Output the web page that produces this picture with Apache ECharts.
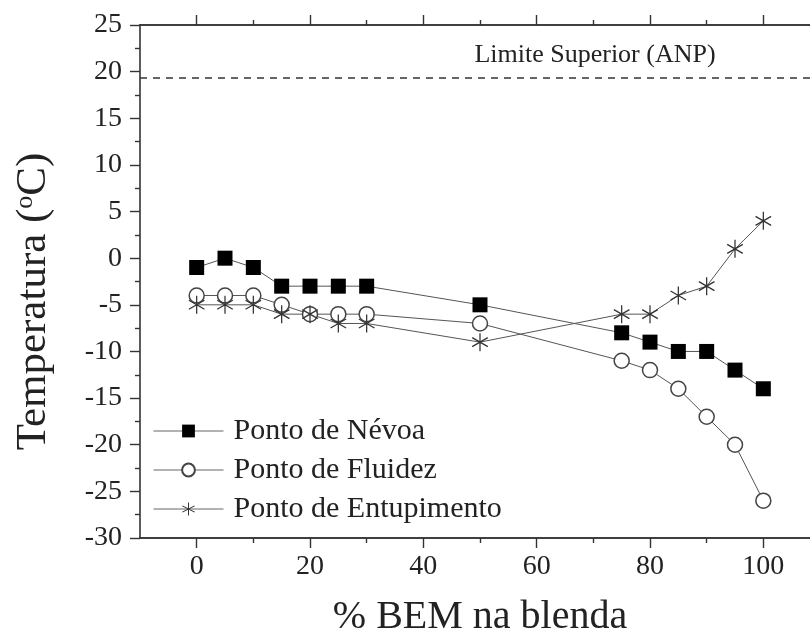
<!DOCTYPE html>
<html>
<head>
<meta charset="utf-8">
<script src="https://cdn.jsdelivr.net/npm/echarts@6/dist/echarts.min.js"></script>
<style>
  html, body { margin: 0; padding: 0; background: #fff; }
  #chart { width: 810px; height: 637px; }
</style>
</head>
<body>
<div id="chart"></div>
<script>
// ---- data ----
const xValues = [0, 5, 10, 15, 20, 25, 30, 50, 75, 80, 85, 90, 95, 100];
const nevoa = [-1, 0, -1, -3, -3, -3, -3, -5, -8, -9, -10, -10, -12, -14];
const fluidez = [-4, -4, -4, -5, -6, -6, -6, -7, -11, -12, -14, -17, -20, -26];
const entupimento = [-5, -5, -5, -6, -6, -7, -7, -9, -6, -6, -4, -3, 1, 4];
const seriesNames = ['Ponto de Névoa', 'Ponto de Fluidez', 'Ponto de Entupimento'];
const xMajorTicks = [0, 20, 40, 60, 80, 100];
const xMinorTicks = [10, 30, 50, 70, 90];
const anpLimit = 19.3;
const anpLabel = 'Limite Superior (ANP)';
const xTitle = '% BEM na blenda';

const FONT = "'Liberation Serif', 'Times New Roman', serif";
const INK = '#222';
const AXIS = '#333';

const asteriskPath = 'path://M-0.07,-1L0.07,-1L0.07,1L-0.07,1Z' +
  'M0.831,-0.561L0.901,-0.439L-0.831,0.561L-0.901,0.439Z' +
  'M-0.901,-0.439L-0.831,-0.561L0.901,0.439L0.831,0.561Z';

function pairs(ys) { return xValues.map((x, i) => [x, ys[i]]); }

const chart = echarts.init(document.getElementById('chart'), null, { renderer: 'canvas' });

const axisLineStyle = { show: true, onZero: false, lineStyle: { color: AXIS, width: 1.6 } };

function xAxisBase(position, ticks, len, showLabel, extra) {
  return Object.assign({
    type: 'value', position: position, min: -10, max: 110,
    axisLine: axisLineStyle,
    axisTick: { show: true, inside: false, length: len, customValues: ticks, lineStyle: { color: AXIS, width: 1.4 } },
    axisLabel: showLabel ? { show: true, customValues: ticks, fontSize: 28, fontFamily: FONT, color: INK, margin: 15 } : { show: false },
    splitLine: { show: false }
  }, extra || {});
}

const option = {
  backgroundColor: '#fff',
  animation: false,
  grid: { left: 140, top: 25, width: 680, bottom: 99, containLabel: false, outerBoundsMode: 'none' },
  xAxis: [
    xAxisBase('bottom', xMajorTicks, 10, true, {
      name: xTitle, nameLocation: 'middle', nameGap: 59,
      nameTextStyle: { fontSize: 40, fontFamily: FONT, color: INK }
    }),
    xAxisBase('bottom', xMinorTicks, 5, false),
    xAxisBase('top', xMajorTicks, 10, false),
    xAxisBase('top', xMinorTicks, 5, false)
  ],
  yAxis: [
    {
      type: 'value', position: 'left', min: -30, max: 25, interval: 5,
      axisLine: axisLineStyle,
      axisTick: { show: true, inside: false, length: 10, lineStyle: { color: AXIS, width: 1.4 } },
      minorTick: { show: true, splitNumber: 2, length: 5, lineStyle: { color: AXIS, width: 1.4 } },
      axisLabel: { fontSize: 28, fontFamily: FONT, color: INK, margin: 18 },
      splitLine: { show: false },
      name: 'Temperatura ({sup|o}C)', nameLocation: 'middle', nameGap: 84,
      nameTextStyle: {
        fontSize: 43, fontFamily: FONT, color: INK, padding: [0, 40, 0, 0],
        rich: { sup: { fontSize: 26, fontFamily: FONT, color: INK, verticalAlign: 'top', padding: [0, 0, 18, 0] } }
      }
    },
    {
      type: 'value', position: 'right', min: -30, max: 25, interval: 5,
      axisLine: axisLineStyle, axisTick: { show: false }, axisLabel: { show: false }, splitLine: { show: false }
    }
  ],
  legend: {
    orient: 'vertical', left: 153, top: 416, padding: 0,
    itemWidth: 70, itemHeight: 16, itemGap: 9,
    lineStyle: { color: '#666', width: 1 },
    textStyle: { fontSize: 30, fontFamily: FONT, color: INK, lineHeight: 30, padding: [0, 0, 0, 5] },
    data: seriesNames
  },
  series: [
    {
      name: seriesNames[0], type: 'line', data: pairs(nevoa),
      symbol: 'rect', symbolSize: 15,
      itemStyle: { color: '#000', borderColor: '#000', borderWidth: 0 },
      lineStyle: { color: '#555', width: 1 },
      markLine: {
        silent: true, symbol: 'none', animation: false,
        lineStyle: { color: AXIS, width: 1.5, type: [7, 6] },
        label: {
          show: true, formatter: anpLabel, position: 'insideMiddleTop',
          fontSize: 26, fontFamily: FONT, color: INK, distance: 10, offset: [115, 0]
        },
        data: [{ yAxis: anpLimit }]
      }
    },
    {
      name: seriesNames[1], type: 'line', data: pairs(fluidez),
      symbol: 'circle', symbolSize: 15,
      itemStyle: { color: '#fff', borderColor: '#444', borderWidth: 1.5 },
      lineStyle: { color: '#555', width: 1 }
    },
    {
      name: seriesNames[2], type: 'line', data: pairs(entupimento),
      symbol: asteriskPath, symbolSize: 18, symbolKeepAspect: true,
      itemStyle: { color: '#333', borderWidth: 0 },
      lineStyle: { color: '#555', width: 1 }
    }
  ]
};

chart.setOption(option);
</script>
</body>
</html>
